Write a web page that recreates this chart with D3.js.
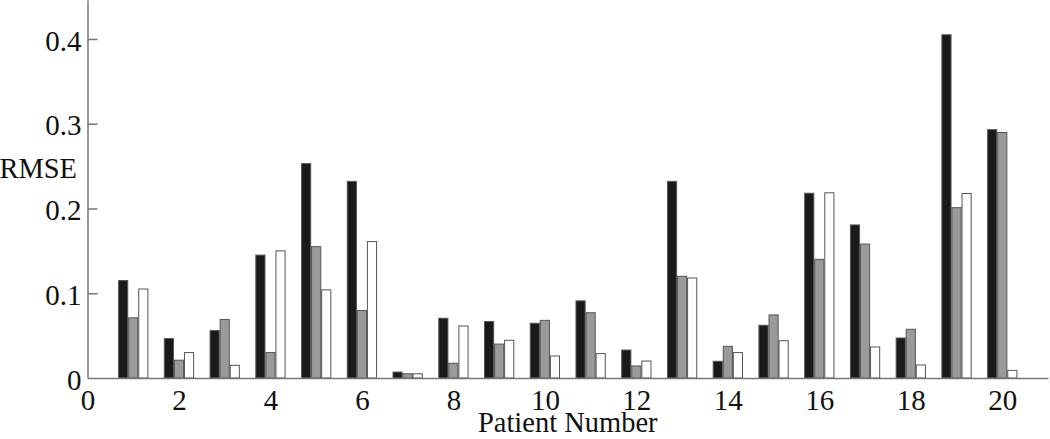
<!DOCTYPE html>
<html>
<head>
<meta charset="utf-8">
<script src="https://cdnjs.cloudflare.com/ajax/libs/d3/7.8.5/d3.min.js"></script>
<style>
  body { margin: 0; background: #fff; }
  text { font-family: "Liberation Serif", "DejaVu Serif", serif; fill: #111; }
</style>
</head>
<body>
<script>
// patients 1..20, three methods per patient
var patients = d3.range(1, 21);
var seriesA = [0.115, 0.0465, 0.056, 0.145, 0.253, 0.232, 0.007, 0.0705, 0.0666, 0.0646,
               0.091, 0.033, 0.232, 0.0197, 0.0622, 0.218, 0.1806, 0.0472, 0.405, 0.293];
var seriesB = [0.071, 0.021, 0.069, 0.030, 0.155, 0.0796, 0.005, 0.0174, 0.040, 0.068,
               0.077, 0.0142, 0.120, 0.0374, 0.0744, 0.140, 0.158, 0.0575, 0.201, 0.2897];
var seriesC = [0.105, 0.030, 0.015, 0.150, 0.104, 0.161, 0.005, 0.0614, 0.0445, 0.026,
               0.0288, 0.020, 0.118, 0.030, 0.044, 0.2185, 0.0366, 0.0154, 0.2177, 0.009];
var xTicks = [0, 2, 4, 6, 8, 10, 12, 14, 16, 18, 20];
var yTicks = [0, 0.1, 0.2, 0.3, 0.4];

var series = [seriesA, seriesB, seriesC];
var fills = ["#1a1a1a", "#9a9a9a", "#ffffff"];
var offsets = [-0.22, 0, 0.22];
var barW = 0.2;

var w = 1050, h = 439;

var svg = d3.select("body").append("svg")
  .attr("width", w)
  .attr("height", h);

var x = d3.scaleLinear().domain([0, 21]).range([87.5, 1048]);
var y = d3.scaleLinear().domain([0, 0.446]).range([378, 0]);

// bars
series.forEach(function(s, i) {
  svg.append("g").selectAll("rect")
    .data(s)
    .enter()
    .append("rect")
    .attr("x", function(d, j) { return x(patients[j] + offsets[i] - barW / 2); })
    .attr("width", x(barW) - x(0))
    .attr("y", function(d) { return y(d); })
    .attr("height", function(d) { return y(0) - y(d); })
    .style("fill", fills[i])
    .style("stroke", "#555")
    .style("stroke-width", 1);
});

// x axis
var gx = svg.append("g")
  .attr("transform", "translate(0," + y(0) + ")")
  .call(d3.axisBottom(x).tickValues(xTicks).tickFormat(d3.format("d"))
    .tickSize(0).tickSizeOuter(0).tickPadding(11));

// y axis, ticks pointing inward
var gy = svg.append("g")
  .attr("transform", "translate(" + x(0) + ",0)")
  .call(d3.axisLeft(y).tickValues(yTicks).tickFormat(function(d) { return d === 0 ? "0" : d3.format(".1f")(d); })
    .tickSizeInner(-10).tickSizeOuter(0).tickPadding(6));

[gx, gy].forEach(function(g) {
  g.select(".domain").style("stroke", "#777").style("stroke-width", 1.5);
  g.selectAll(".tick line").style("stroke", "#777").style("stroke-width", 1.5);
  g.selectAll(".tick text").style("font-size", "29px").style("font-family", "Liberation Serif").style("fill", "#111");
});
gy.selectAll(".tick text").attr("dy", "0.38em");
gy.selectAll(".tick").filter(function(d) { return d === 0; }).select("line").remove();

// axis labels
svg.append("text")
  .attr("x", 77)
  .attr("y", 178)
  .attr("text-anchor", "end")
  .style("font-size", "28.5px")
  .text("RMSE");

svg.append("text")
  .attr("x", (x(0) + x(21)) / 2)
  .attr("y", 432)
  .attr("text-anchor", "middle")
  .style("font-size", "28.5px")
  .text("Patient Number");
</script>
</body>
</html>
